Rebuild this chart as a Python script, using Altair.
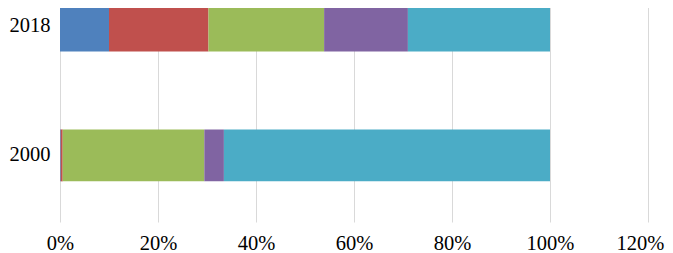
import altair as alt
import pandas as pd

years = ["2018", "2000"]
series = ["S1", "S2", "S3", "S4", "S5"]
colors = ["#4F81BD", "#C0504D", "#9BBB59", "#8064A2", "#4BACC6"]
values_2018 = [0.100, 0.203, 0.236, 0.171, 0.290]
values_2000 = [0.0015, 0.004, 0.289, 0.040, 0.6655]
x_ticks = [0, 0.2, 0.4, 0.6, 0.8, 1.0, 1.2]

rows = []
for yr, vals in zip(years, [values_2018, values_2000]):
    for i, (s, v) in enumerate(zip(series, vals)):
        rows.append({"year": yr, "series": s, "value": v, "idx": i})
df = pd.DataFrame(rows)

FONT = "Liberation Serif"

chart = alt.Chart(df).mark_bar(strokeWidth=0).encode(
    x=alt.X("value:Q", stack="zero",
            scale=alt.Scale(domain=[0, 1.2], nice=False, zero=True),
            axis=alt.Axis(values=x_ticks, format=".0%", title=None,
                          grid=True, gridColor="#d9d9d9", gridWidth=1,
                          domain=False, ticks=False, tickSize=0,
                          labelFont=FONT, labelFontSize=20.5, labelColor="#000000",
                          labelPadding=11, labelFlush=False,
                          labelOffset={"condition": {"test": "datum.value > 1.1", "value": -8},
                                       "value": 0})),
    y=alt.Y("year:N", sort=years,
            scale=alt.Scale(paddingInner=0.6, paddingOuter=0.313),
            axis=alt.Axis(title=None, domain=False, ticks=False, tickSize=0,
                          labelFont=FONT, labelFontSize=20.5, labelColor="#000000",
                          labelPadding=10, grid=False)),
    color=alt.Color("series:N", scale=alt.Scale(domain=series, range=colors), legend=None),
    order=alt.Order("idx:Q"),
).properties(
    width=588, height=263,
    autosize=alt.AutoSizeParams(type="none"),
    padding={"left": 52, "top": -49, "right": 17, "bottom": 40},
).configure_view(stroke="transparent")

chart.save("out.html", embed_options={"renderer": "svg", "actions": False})
